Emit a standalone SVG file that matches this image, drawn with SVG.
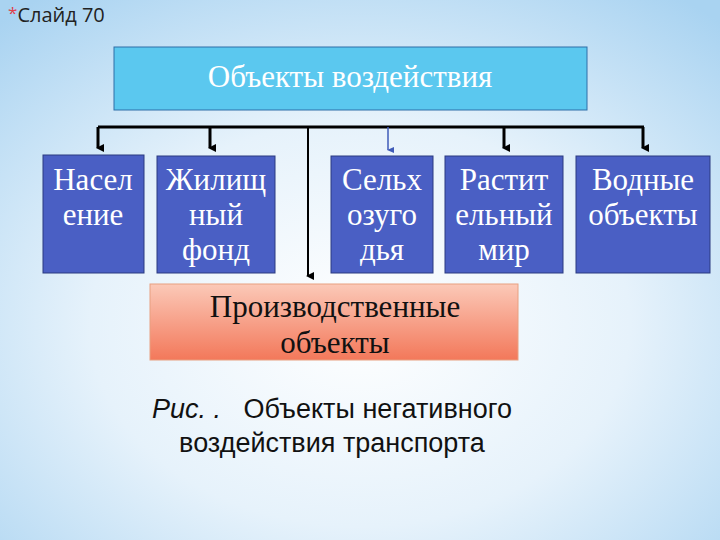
<svg xmlns="http://www.w3.org/2000/svg" width="720" height="540" viewBox="0 0 720 540">
<defs>
<radialGradient id="bg" cx="0.5" cy="0.6" r="0.75">
<stop offset="0" stop-color="#ffffff"/><stop offset="0.5" stop-color="#e6f2fb"/><stop offset="1" stop-color="#a9d3f1"/>
</radialGradient>
<linearGradient id="pk" x1="0" y1="0" x2="0" y2="1"><stop offset="0" stop-color="#fbc9b8"/><stop offset="1" stop-color="#f3785a"/></linearGradient>
<marker id="a" markerWidth="8" markerHeight="8" refX="4" refY="6" orient="auto" markerUnits="userSpaceOnUse"><path d="M0,0 L8,0 L4,8 Z" fill="#000"/></marker>
<marker id="ab" markerWidth="8" markerHeight="8" refX="4" refY="6" orient="auto" markerUnits="userSpaceOnUse"><path d="M1,0 L7,0 L4,7 Z" fill="#3f5bb8"/></marker>
<style>
.b{fill:#4a5fc4;stroke:#2b3a80;stroke-width:1}
.t{font-family:"Liberation Serif",serif;font-size:31px;fill:#fff;text-anchor:middle}
.c{stroke:#000;stroke-width:3;fill:none}
.s{font-family:"Liberation Sans",sans-serif;font-size:27px;fill:#111;text-anchor:middle}
</style>
</defs>
<rect width="720" height="540" fill="url(#bg)"/>
<text x="8" y="22" font-family="Open Sans,sans-serif" font-size="20" fill="#222"><tspan fill="#e0404a" font-size="17" dy="-3">*</tspan><tspan dy="3">Слайд 70</tspan></text>
<g id="connectors">
<path class="c" d="M98,127 H644"/>
<path class="c" d="M98,127 V148" marker-end="url(#a)"/>
<path class="c" d="M210,127 V148" marker-end="url(#a)"/>
<path class="c" d="M504,127 V148" marker-end="url(#a)"/>
<path class="c" d="M643,127 V148" marker-end="url(#a)"/>
<path stroke="#000" stroke-width="2" d="M308,127 V276" marker-end="url(#a)"/>
<path stroke="#3f5bb8" stroke-width="1.5" d="M388,127 V150" marker-end="url(#ab)"/>
</g>
<g id="top"><rect x="114" y="47" width="473" height="63" fill="#5bc8ef" stroke="#2f6fa8"/>
<text class="t" x="350" y="87">Объекты воздействия</text></g>
<g id="n1"><rect class="b" x="43" y="155" width="101" height="118"/><text class="t" x="93" y="190">Насел<tspan x="93" dy="35">ение</tspan></text></g>
<g id="n2"><rect class="b" x="157" y="156" width="118" height="117"/><text class="t" x="216" y="190">Жилищ<tspan x="216" dy="35">ный</tspan><tspan x="216" dy="35">фонд</tspan></text></g>
<g id="n3"><rect class="b" x="331" y="156" width="102" height="117"/><text class="t" x="382" y="190">Сельх<tspan x="382" dy="35">озуго</tspan><tspan x="382" dy="35">дья</tspan></text></g>
<g id="n4"><rect class="b" x="445" y="156" width="118" height="117"/><text class="t" x="504" y="190">Растит<tspan x="504" dy="35">ельный</tspan><tspan x="504" dy="35">мир</tspan></text></g>
<g id="n5"><rect class="b" x="576" y="156" width="134" height="117"/><text class="t" x="643" y="190">Водные<tspan x="643" dy="35">объекты</tspan></text></g>
<g id="n6"><rect x="150" y="284" width="368" height="76" fill="url(#pk)" stroke="#e8a080"/>
<text class="t" style="fill:#111" x="335" y="317">Производственные<tspan x="335" dy="36">объекты</tspan></text></g>
<text class="s" x="332" y="418" xml:space="preserve"><tspan font-style="italic">Рис. .</tspan>   Объекты негативного<tspan x="332" dy="34">воздействия транспорта</tspan></text>
</svg>
